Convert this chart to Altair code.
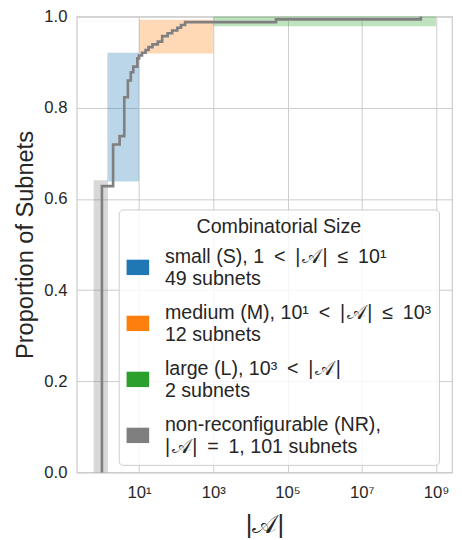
import altair as alt
import pandas as pd

# ECDF data: distinct |A| values and how many subnets have each
a_values = [1, 2, 3, 4, 5, 6, 7, 9, 10,
            12, 15, 18, 23, 32, 42, 59, 78, 107, 135, 174,
            49000, 3.9e8]
a_counts = [103, 15, 3, 14, 6, 3, 2, 3, 1,
            1, 1, 1, 1, 1, 2, 1, 1, 1, 1, 1,
            1, 1]

# category bands
A = "|\u200a𝒜\u200a|"
band_labels = [
    "small (S), 1\u2002<\u2002" + A + "\u2002≤\u200210¹\n49 subnets",
    "medium (M), 10¹\u2002<\u2002" + A + "\u2002≤\u200210³\n12 subnets",
    "large (L), 10³\u2002<\u2002" + A + "\n2 subnets",
    "non-reconfigurable (NR),\n" + A + "\u2002=\u20021, 101 subnets",
]
band_x1 = [1.4, 10, 1e3, 0.6]
band_x2 = [10, 1e3, 1e9, 1.45]
band_y1 = [0.638, 0.919, 0.979, 0.0]
band_y2 = [0.921, 0.993, 1.0, 0.641]
band_colors = ["#1f77b4", "#ff7f0e", "#2ca02c", "#7f7f7f"]

x_ticks = [1e1, 1e3, 1e5, 1e7, 1e9]
y_ticks = [0.0, 0.2, 0.4, 0.6, 0.8, 1.0]

total = sum(a_counts)
cum = []
run = 0
for c in a_counts:
    run += c
    cum.append(run / total)
ecdf = pd.DataFrame({
    "a": [a_values[0]] + a_values,
    "p": [0.0] + cum,
})
ecdf["i"] = range(len(ecdf))

bands = pd.DataFrame({
    "label": band_labels,
    "x1": band_x1, "x2": band_x2,
    "y1": band_y1, "y2": band_y2,
})

FONT = "Liberation Sans"
xscale = alt.Scale(type="log", domain=[0.21, 2.7e9], nice=False)
yscale = alt.Scale(domain=[0, 1], nice=False)

sup = "['⁰','¹','²','³','⁴','⁵','⁶','⁷','⁸','⁹']"

rects = alt.Chart(bands).mark_rect(opacity=0.3).encode(
    x=alt.X("x1:Q", scale=xscale,
            axis=alt.Axis(values=x_ticks, title="|𝒜|",
                          labelExpr="'10' + " + sup + "[round(log(datum.value)/LN10)]",
                          labelPadding=13, titlePadding=11, titleFontSize=26)),
    x2="x2:Q",
    y=alt.Y("y1:Q", scale=yscale,
            axis=alt.Axis(values=y_ticks, format=".1f", title="Proportion of Subnets",
                          labelPadding=10, titlePadding=6, titleFontSize=24)),
    y2="y2:Q",
    color=alt.Color("label:N",
                    scale=alt.Scale(domain=band_labels, range=band_colors),
                    legend=alt.Legend(
                        title="Combinatorial Size", orient="none",
                        legendX=42.7, legendY=196.3,
                        fillColor="rgba(255,255,255,0.8)", strokeColor="#cccccc",
                        cornerRadius=4, padding=8,
                        titleAnchor="middle", titleFontSize=20, titleFont=FONT,
                        titleFontWeight="normal", titleColor="#262626", titlePadding=9,
                        labelFontSize=20, labelFont=FONT, labelColor="#262626",
                        labelExpr="split(datum.label, '\\n')", labelLimit=500,
                        symbolType="M-1,0.23H1V1.59H-1Z", symbolSize=529,
                        symbolOpacity=1, symbolStrokeWidth=0,
                        rowPadding=13, labelOffset=16,
                    )),
)

line = alt.Chart(ecdf).mark_line(interpolate="step-after", color="#808080",
                                 strokeWidth=2.7).encode(
    x=alt.X("a:Q", scale=xscale),
    y=alt.Y("p:Q", scale=yscale),
    order=alt.Order("i:Q"),
)

chart = alt.layer(rects, line).properties(
    width=382, height=464,
    autosize=alt.AutoSizeParams(type="none"),
    padding={"left": 70, "top": 4, "right": 2, "bottom": 64},
).configure_view(
    stroke="#cccccc", strokeWidth=1.25,
).configure_axis(
    grid=True, gridColor="#cccccc", gridWidth=1,
    domain=False, ticks=False,
    labelFont=FONT, labelFontSize=17, labelColor="#262626",
    titleFont=FONT, titleColor="#262626", titleFontWeight="normal",
)

chart.save("out.html", embed_options={"renderer": "svg", "actions": False})
